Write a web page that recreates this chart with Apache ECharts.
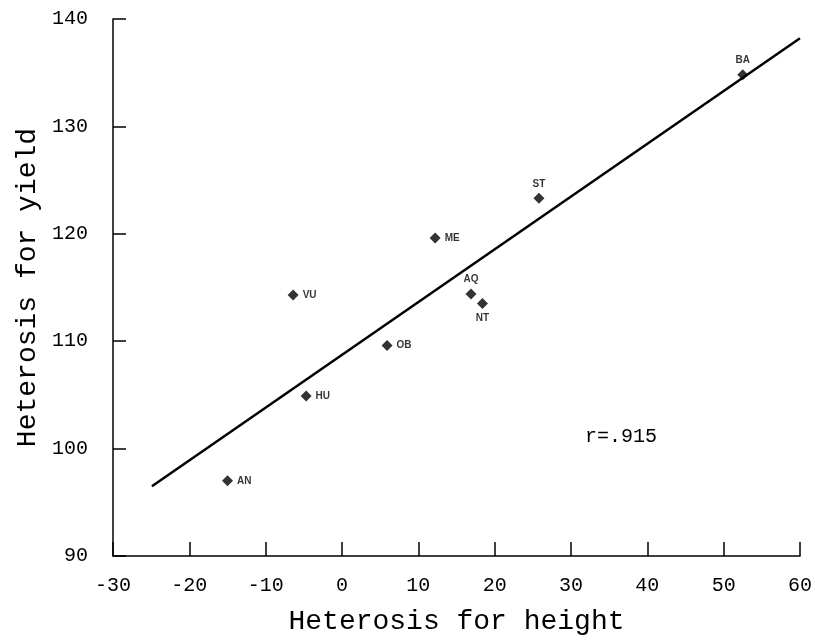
<!DOCTYPE html>
<html><head><meta charset="utf-8">
<script src="https://cdn.jsdelivr.net/npm/echarts@6/dist/echarts.min.js"></script>
<style>html,body{margin:0;padding:0;background:#fff}#c{width:815px;height:641px}</style>
</head><body><div id="c"></div>
<script>
// Data
const names   = ['BA', 'ST', 'ME', 'VU', 'AQ', 'NT', 'OB', 'HU', 'AN'];
const heightH = [52.5, 25.8, 12.2, -6.4, 16.9, 18.4, 5.9, -4.7, -15.0];
const yieldH  = [134.8, 123.3, 119.6, 114.3, 114.4, 113.5, 109.6, 104.9, 97.0];
const labelPos = ['top', 'top', 'right', 'right', 'top', 'bottom', 'right', 'right', 'right'];
const lineX = [-24.9, 60];
const lineY = [96.5, 138.2];
const xTicks = [-30, -20, -10, 0, 10, 20, 30, 40, 50, 60];
const yTicks = [90, 100, 110, 120, 130, 140];
const rText = 'r=.915';

const mono = '"Liberation Mono", "DejaVu Sans Mono", monospace';
const chart = echarts.init(document.getElementById('c'), null, {renderer: 'canvas'});
const pts = names.map((n, i) => ({
  value: [heightH[i], yieldH[i]], name: n,
  label: {position: labelPos[i]}
}));
chart.setOption({
  animation: false,
  backgroundColor: '#fff',
  grid: {left: 113, right: 12, top: 19, bottom: 84, containLabel: false},
  xAxis: {
    type: 'value', min: xTicks[0], max: xTicks[xTicks.length - 1], interval: 10,
    name: 'Heterosis for height', nameLocation: 'middle', nameGap: 52,
    nameTextStyle: {fontFamily: mono, fontSize: 28, color: '#000'},
    axisLine: {show: true, onZero: false, lineStyle: {color: '#000', width: 1.5}},
    axisTick: {show: true, inside: true, length: 14, lineStyle: {color: '#000', width: 1.5}},
    axisLabel: {fontFamily: mono, fontSize: 20, color: '#000', margin: 20},
    splitLine: {show: false}
  },
  yAxis: {
    type: 'value', min: yTicks[0], max: yTicks[yTicks.length - 1], interval: 10,
    name: 'Heterosis for yield', nameLocation: 'middle', nameGap: 70,
    nameTextStyle: {fontFamily: mono, fontSize: 28, color: '#000'},
    axisLine: {show: true, onZero: false, lineStyle: {color: '#000', width: 1.5}},
    axisTick: {show: true, inside: true, length: 13, lineStyle: {color: '#000', width: 1.5}},
    axisLabel: {fontFamily: mono, fontSize: 20, color: '#000', margin: 25},
    splitLine: {show: false}
  },
  series: [
    {
      type: 'line', data: lineX.map((x, i) => [x, lineY[i]]),
      showSymbol: false, lineStyle: {color: '#000', width: 2.5}, z: 2
    },
    {
      type: 'scatter', data: pts, symbol: 'diamond', symbolSize: 11,
      itemStyle: {color: '#000'}, z: 3,
      label: {show: true, formatter: '{b}', fontFamily: '"Liberation Sans", Arial, sans-serif',
              fontSize: 10, fontWeight: 'bold', color: '#000', distance: 4}
    }
  ],
  graphic: [{
    type: 'text', left: 585, top: 427,
    style: {text: rText, font: '20px ' + mono, fill: '#000'}
  }]
});
</script></body></html>
